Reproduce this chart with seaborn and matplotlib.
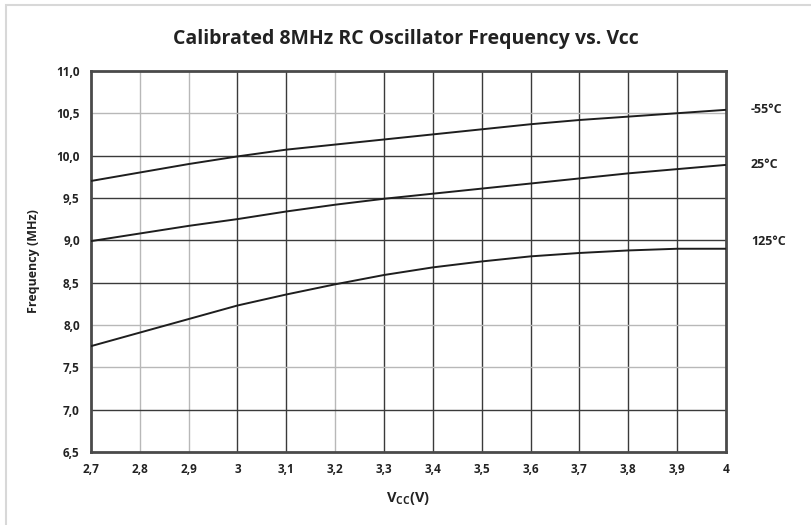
import numpy as np
import pandas as pd
import matplotlib
matplotlib.use("Agg")
import matplotlib.pyplot as plt
from matplotlib.patches import Rectangle
import seaborn as sns

# ── data ─────────────────────────────────────────
vcc = [2.7, 2.8, 2.9, 3.0, 3.1, 3.2, 3.3, 3.4, 3.5, 3.6, 3.7, 3.8, 3.9, 4.0]
freq_m55 = [9.70, 9.80, 9.90, 9.99, 10.07, 10.13, 10.19, 10.25, 10.31, 10.37, 10.42, 10.46, 10.50, 10.54]
freq_25 = [8.99, 9.08, 9.17, 9.25, 9.34, 9.42, 9.49, 9.55, 9.61, 9.67, 9.73, 9.79, 9.84, 9.89]
freq_125 = [7.75, 7.91, 8.07, 8.23, 8.36, 8.48, 8.59, 8.68, 8.75, 8.81, 8.85, 8.88, 8.90, 8.90]
temps = ["-55°C", "25°C", "125°C"]

xticks = [2.7, 2.8, 2.9, 3.0, 3.1, 3.2, 3.3, 3.4, 3.5, 3.6, 3.7, 3.8, 3.9, 4.0]
xtick_labels = ["2,7", "2,8", "2,9", "3", "3,1", "3,2", "3,3", "3,4", "3,5",
                "3,6", "3,7", "3,8", "3,9", "4"]
yticks = [6.5, 7.0, 7.5, 8.0, 8.5, 9.0, 9.5, 10.0, 10.5, 11.0]

df = pd.DataFrame({
    "vcc": vcc * 3,
    "freq": freq_m55 + freq_25 + freq_125,
    "temp": [temps[0]] * len(vcc) + [temps[1]] * len(vcc) + [temps[2]] * len(vcc),
})

# ── style ────────────────────────────────────────
sns.set_style("white")
plt.rcParams["font.family"] = ["Open Sans", "DejaVu Sans"]

LINE_COL = "#1e1e1e"
GRID_DARK = "#3a3a3a"
GRID_LIGHT = "#b8b8b8"

fig = plt.figure(figsize=(8.12, 5.25), dpi=100, facecolor="white")
ax = fig.add_axes([0.112, 0.139, 0.782, 0.726])

# grid (the scan shows some lines lighter than others)
light_x = [2.8, 2.9, 3.2]
light_y = [10.5, 8.0, 7.5]
for x in xticks[1:-1]:
    ax.axvline(x, color=GRID_LIGHT if x in light_x else GRID_DARK,
               linewidth=1.0, zorder=1)
for y in yticks[1:-1]:
    ax.axhline(y, color=GRID_LIGHT if y in light_y else GRID_DARK,
               linewidth=1.0, zorder=1)

sns.lineplot(data=df, x="vcc", y="freq", hue="temp", palette=[LINE_COL] * 3,
             linewidth=1.4, legend=False, ax=ax, zorder=3)

ax.set_xlim(2.7, 4.0)
ax.set_ylim(6.5, 11.0)
ax.set_xticks(xticks)
ax.set_xticklabels(xtick_labels)
ax.set_yticks(yticks)
ax.set_yticklabels([f"{v:.1f}".replace(".", ",") for v in yticks])
ax.tick_params(length=0, labelsize=8.5, colors="#222222", pad=8)
for lab in ax.get_xticklabels() + ax.get_yticklabels():
    lab.set_fontweight("bold")

for spine in ax.spines.values():
    spine.set_visible(True)
    spine.set_color("#4a4a4a")
    spine.set_linewidth(2.0)

ax.set_xlabel(r"V$_{\mathregular{CC}}$(V)", fontsize=10.5, fontweight="bold",
              color="#222222", labelpad=10)
ax.set_ylabel("Frequency (MHz)", fontsize=9, fontweight="bold",
              color="#222222", labelpad=12)
fig.suptitle("Calibrated 8MHz RC Oscillator Frequency vs. Vcc", x=0.5, y=0.945,
             fontsize=14, fontweight="bold", color="#222222")

# series labels at the right-hand end
label_y = {temps[0]: freq_m55[-1], temps[1]: freq_25[-1], temps[2]: freq_125[-1] + 0.09}
for t in temps:
    ax.annotate(t, xy=(1.0, label_y[t]), xycoords=("axes fraction", "data"),
                xytext=(18, 0), textcoords="offset points",
                fontsize=9, fontweight="bold", color="#222222", va="center")

fig.patches.append(Rectangle((0.008, -0.01), 1.0, 1.0, transform=fig.transFigure,
                             fill=False, edgecolor="#d8d8d8", linewidth=1.5))

fig.savefig("out.png", dpi=100, facecolor="white")
